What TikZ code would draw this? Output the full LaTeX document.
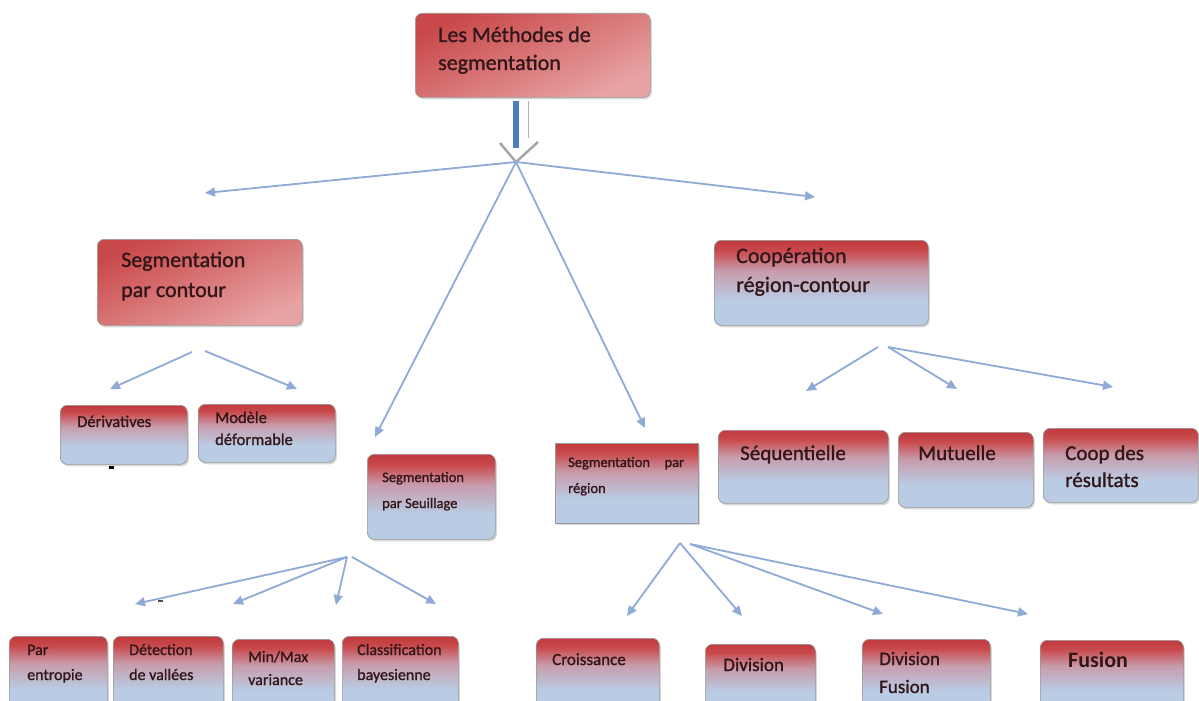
\documentclass[tikz,border=0pt]{standalone}
\usepackage{fontspec}
\setmainfont{Carlito}
\newfontfamily\heavy[FakeBold=1.2]{Carlito}
\usetikzlibrary{arrows.meta,shadows}
\definecolor{cred}{HTML}{C9494B}
\definecolor{cred2}{HTML}{BF3A3E}
\definecolor{cmid}{HTML}{C89CAC}
\definecolor{cblue}{HTML}{B9CCE4}
\definecolor{cpink}{HTML}{E8A4A4}
\definecolor{arr}{HTML}{8FAAD6}
\definecolor{ink}{HTML}{33161A}
\definecolor{bigblue}{HTML}{4A7EC0}
\pgfdeclareverticalshading{redblue}{100bp}{color(0bp)=(cblue); color(25bp)=(cblue); color(40bp)=(cblue); color(57bp)=(cmid); color(69bp)=(cred); color(75bp)=(cred2); color(100bp)=(cred2)}
\pgfdeclareverticalshading{redpink}{100bp}{color(0bp)=(cpink); color(25bp)=(cpink); color(75bp)=(cred); color(100bp)=(cred)}
\tikzset{
  box/.style={rectangle, rounded corners=7pt, draw=black!40, line width=0.7pt, shading=redblue, inner sep=0pt, anchor=north west,
    drop shadow={shadow xshift=1.5pt, shadow yshift=-2pt, opacity=0.3}},
  pbox/.style={box, shading=redpink, shading angle=25},
  sqbox/.style={box, rounded corners=0pt},
  txt/.style={anchor=base west, align=left, text=ink, inner sep=0pt},
  conn/.style={draw=arr, line width=1.8pt, -{Triangle[length=10pt,width=9pt]}},
}
\newcommand{\fs}[2]{\fontsize{#1}{#2}\selectfont}
\begin{document}
\begin{tikzpicture}[x=1pt,y=-1pt]
\useasboundingbox[fill=white] (0,0) rectangle (1199,701);
% boxes
\node[pbox, minimum width=235pt, minimum height=84pt] (top) at (415,13) {};
\node[pbox, minimum width=205pt, minimum height=86pt] (contour) at (97,239) {};
\node[box, minimum width=214pt, minimum height=85pt] (coop) at (714,240) {};
\node[box, minimum width=127pt, minimum height=59pt] (deriv) at (60,405) {};
\node[box, minimum width=137pt, minimum height=58pt] (modele) at (198,404) {};
\node[box, minimum width=128pt, minimum height=85pt] (seuil) at (367,454) {};
\node[sqbox, minimum width=143pt, minimum height=80pt] (region) at (555,443) {};
\node[box, minimum width=170pt, minimum height=73pt] (seq) at (718,430) {};
\node[box, minimum width=135pt, minimum height=75pt] (mut) at (898,432) {};
\node[box, minimum width=155pt, minimum height=74pt] (res) at (1043,428) {};
\node[box, minimum width=98pt, minimum height=76pt] (entropie) at (9,636) {};
\node[box, minimum width=110pt, minimum height=76pt] (detect) at (113,636) {};
\node[box, minimum width=102pt, minimum height=73pt] (minmax) at (232,639) {};
\node[box, minimum width=116pt, minimum height=76pt] (classif) at (342,636) {};
\node[box, minimum width=123pt, minimum height=74pt] (crois) at (536,638) {};
\node[box, minimum width=110pt, minimum height=68pt] (div) at (705,644) {};
\node[box, minimum width=128pt, minimum height=73pt] (divfus) at (862,639) {};
\node[box, minimum width=143pt, minimum height=72pt] (fusion) at (1040,640) {};
% texts (base = baseline of the last line)
\node[txt, font=\heavy\fs{22}{28}] (top-t) at (438,70) {Les Méthodes de\\segmentation};
\node[txt, font=\heavy\fs{22}{30}] (contour-t) at (121,297) {Segmentation\\par contour};
\node[txt, font=\heavy\fs{22}{29}] (coop-t) at (736,292) {Coopération\\région-contour};
\node[txt, font=\heavy\fs{16.5}{22}] (deriv-t) at (77,427) {Dérivatives};
\node[txt, font=\heavy\fs{16.5}{22}] (modele-t) at (215,445) {Modèle\\déformable};
\node[txt, font=\heavy\fs{14.5}{26}] (seuil-t) at (382,508) {Segmentation\\par Seuillage};
\node[txt, font=\heavy\fs{14.5}{26}] (region-t) at (568,493) {Segmentation\quad par\\région};
\node[txt, font=\heavy\fs{21}{27}] (seq-t) at (740,460) {Séquentielle};
\node[txt, font=\heavy\fs{21}{27}] (mut-t) at (918,460) {Mutuelle};
\node[txt, font=\heavy\fs{21}{27}] (res-t) at (1065,487) {Coop des\\résultats};
\node[txt, font=\heavy\fs{16}{25}] (entropie-t) at (27,680) {Par\\entropie};
\node[txt, font=\heavy\fs{16}{25}] (detect-t) at (129,680) {Détection\\de vallées};
\node[txt, font=\heavy\fs{16}{23}] (minmax-t) at (248,685) {Min/Max\\variance};
\node[txt, font=\heavy\fs{16}{25}] (classif-t) at (357,680) {Classification\\bayesienne};
\node[txt, font=\heavy\fs{17}{25}] (crois-t) at (552,665) {Croissance};
\node[txt, font=\heavy\fs{19}{27}] (div-t) at (723,671) {Division};
\node[txt, font=\heavy\fs{19}{28}] (divfus-t) at (879,693) {Division\\Fusion};
\node[txt, font=\bfseries\fs{22}{28}] (fusion-t) at (1068,667) {Fusion};
% big arrow from the top box
\coordinate (J) at (516,162);
\draw[line width=6pt, bigblue] (top.south -| J) ++(0,3) -- (516,148);
\draw[line width=1pt, black!30] (528,101) -- (528,138);
\draw[line width=2.5pt, black!35, line join=miter] (500,143) -- (J) -- (538,142);
% connectors from the junction
\coordinate (t1) at (205,193);
\coordinate (t2) at (815,197);
\coordinate (t3) at (375,437);
\coordinate (t4) at (645,428);
\draw[conn] (J) -- (t1);
\draw[conn] (J) -- (t2);
\draw[conn] (J) -- (t3);
\draw[conn] (J) -- (t4);
% contour
\coordinate (c1) at (192,352); \coordinate (c2) at (205,351);
\coordinate (c1t) at (110,389); \coordinate (c2t) at (297,389);
\draw[conn] (c1) -- (c1t);
\draw[conn] (c2) -- (c2t);
% cooperation
\coordinate (k1) at (878,347); \coordinate (k2) at (888,347);
\coordinate (k1t) at (806,391); \coordinate (k2t) at (957,389); \coordinate (k3t) at (1113,387);
\draw[conn] (k1) -- (k1t);
\draw[conn] (k2) -- (k2t);
\draw[conn] (k2) -- (k3t);
% seuillage
\coordinate (s1) at (347,557); \coordinate (s2) at (352,557);
\coordinate (s1t) at (135,604); \coordinate (s2t) at (233,604);
\coordinate (s3t) at (336,605); \coordinate (s4t) at (436,604);
\draw[conn] (s1) -- (s1t);
\draw[conn] (s1) -- (s2t);
\draw[conn] (s1) -- (s3t);
\draw[conn] (s2) -- (s4t);
% region
\coordinate (r1) at (680,543); \coordinate (r2) at (690,544);
\coordinate (r1t) at (627,616); \coordinate (r2t) at (742,616);
\coordinate (r3t) at (883,614); \coordinate (r4t) at (1028,614);
\draw[conn] (r1) -- (r1t);
\draw[conn] (r1) -- (r2t);
\draw[conn] (r2) -- (r3t);
\draw[conn] (r2) -- (r4t);
% small stray marks
\fill[black] (109,466) rectangle (114,469);
\fill[black!70] (158,600) rectangle (163,602);
\end{tikzpicture}
\end{document}
